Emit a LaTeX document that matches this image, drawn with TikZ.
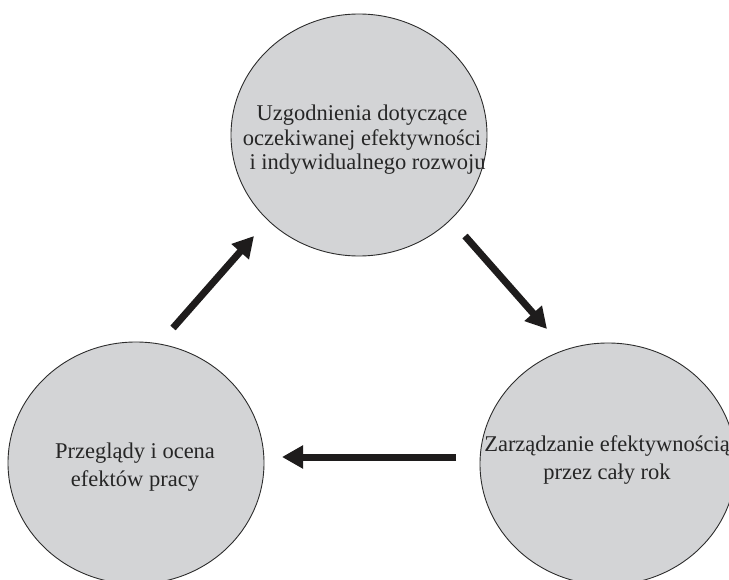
\documentclass[tikz,border=0pt]{standalone}
\usepackage{fontspec}
\setmainfont{Liberation Serif}
\usetikzlibrary{shapes.geometric,arrows.meta}
\definecolor{discfill}{RGB}{211,212,214}
\definecolor{discline}{RGB}{45,45,45}
\definecolor{arrowcol}{RGB}{30,28,28}
\tikzset{
  disc/.style={ellipse, draw=discline, line width=0.9pt, fill=discfill,
    minimum width=256pt, minimum height=242pt, inner sep=0pt},
  disctext/.style={align=center, font=\fontsize{22.5pt}{24.5pt}\selectfont,
    inner sep=0pt, text=black!85},
  widetext/.style={disctext, font=\fontsize{22.5pt}{28.5pt}\selectfont},
  flow/.style={line width=7pt, draw=arrowcol, line cap=butt,
    -{Triangle[length=21pt,width=22pt]}}
}
\begin{document}
\begin{tikzpicture}[x=1pt,y=-1pt]
  \useasboundingbox (0,0) rectangle (729,580);

  % the three stages of the cycle
  \node[disc] (plan) at (359,135) {};
  \node[disc] (review) at (136,463) {};
  \node[disc] (manage) at (608,464) {};

  \node[disctext] (plantext) at (362,140)
    {Uzgodnienia dotyczące\\oczekiwanej efektywności\\\ \ i indywidualnego rozwoju};
  \node[widetext] (reviewtext) at (135,467)
    {Przeglądy i ocena\\efektów pracy};
  \node[widetext] (managetext) at (607,460)
    {Zarządzanie efektywnością\\przez cały rok};

  % arrow end points between the stages
  \coordinate (a1s) at (173,328);
  \coordinate (a1e) at (254,236);
  \coordinate (a2s) at (465,236);
  \coordinate (a2e) at (547,329);
  \coordinate (a3s) at (456,457);
  \coordinate (a3e) at (282,457);

  \draw[flow] (a1s) -- (a1e);
  \draw[flow] (a2s) -- (a2e);
  \draw[flow] (a3s) -- (a3e);
\end{tikzpicture}
\end{document}
